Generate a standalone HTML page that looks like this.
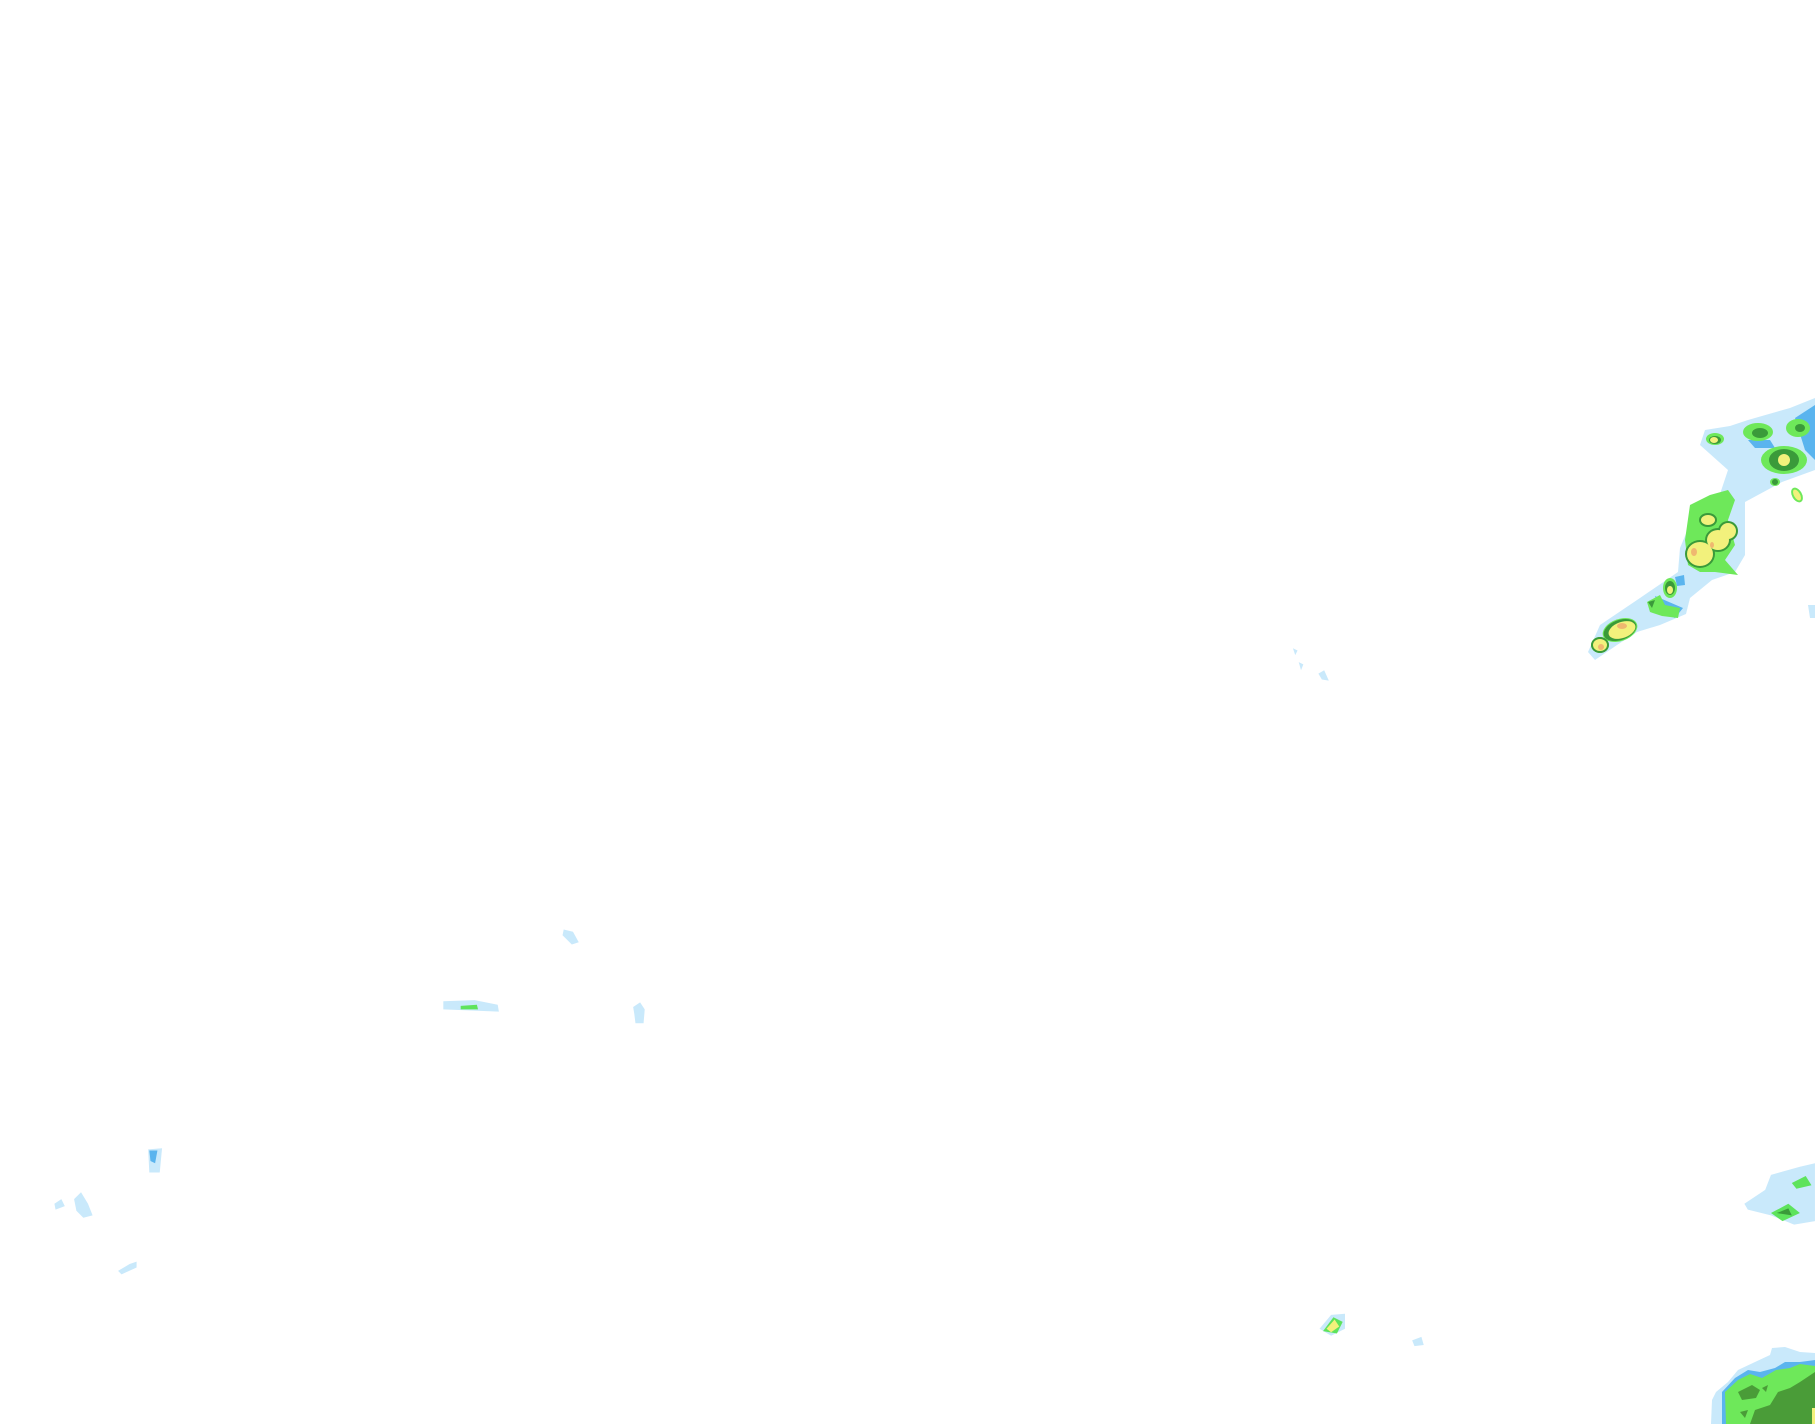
<!DOCTYPE html>
<html><head><meta charset="utf-8"><style>html,body{margin:0;padding:0;background:#fff}svg{display:block}</style></head>
<body>
<svg width="1815" height="1424" viewBox="0 0 1815 1424" xmlns="http://www.w3.org/2000/svg">
<rect width="1815" height="1424" fill="#fff"/>
<!-- scattered small features in 1568-scale coords -->
<g transform="scale(1.1575)">
<g fill="#c9e9fb">
<path d="M1140,1148 L1150,1136 L1162,1135 L1162,1148 L1150,1154 Z"/>
<path d="M1220,1158 L1228,1155 L1230,1162 L1222,1163 Z"/>
<path d="M383,865 L410,864 L430,868 L431,874 L383,872 Z"/>
<path d="M487,803 L495,805 L500,814 L494,816 L486,808 Z"/>
<path d="M547,870 L553,866 L557,872 L556,884 L549,884 L548,876 Z"/>
<path d="M128,993 L140,992 L138,1013 L129,1013 Z"/>
<path d="M47,1040 L53,1036 L56,1042 L48,1045 Z"/>
<path d="M64,1036 L70,1030 L76,1040 L80,1050 L72,1052 L66,1046 Z"/>
<path d="M102,1098 L112,1092 L118,1090 L118,1095 L105,1101 Z"/>
<path d="M1117,560 L1121,562 L1119,566 Z"/>
<path d="M1122,572 L1126,574 L1124,579 Z"/>
<path d="M1139,582 L1144,579 L1148,588 L1142,587 Z"/>
<path d="M1507,1040 L1525,1028 L1530,1015 L1555,1008 L1568,1005 L1568,1055 L1550,1058 L1530,1050 L1510,1045 Z"/>
</g>
<path fill="#5ab4ee" d="M129,994 L136,994 L134,1005 L130,1003 Z"/>
<g fill="#5ee35c">
<path d="M1548,1022 L1560,1016 L1565,1024 L1552,1027 Z"/>
<path d="M1530,1048 L1545,1040 L1555,1048 L1540,1055 Z"/>
<path d="M1143,1150 L1152,1138 L1160,1142 L1155,1152 Z"/>
<path d="M398,869 L412,868 L413,872 L398,872 Z"/>
</g>
<path fill="#3a9a3a" d="M1535,1048 L1545,1044 L1548,1050 Z"/>
<path fill="#f2f17c" d="M1146,1148 L1153,1140 L1157,1146 L1150,1151 Z"/>
</g>

<!-- top-right band, actual coords -->
<path fill="#c9e9fb" d="M1588,652 L1600,625 L1640,598 L1678,572 L1680,548 L1698,505 L1720,494 L1728,470 L1700,445 L1705,430 L1730,426 L1748,420 L1790,408 L1815,398 L1815,470 L1782,482 L1745,502 L1745,555 L1735,572 L1712,580 L1690,598 L1686,614 L1660,625 L1637,632 L1617,645 L1595,660 Z"/>
<path fill="#c9e9fb" d="M1808,605 L1815,605 L1815,618 L1810,618 Z"/>
<g fill="#5ab4ee">
<path d="M1795,418 L1815,405 L1815,460 L1805,450 Z"/>
<path d="M1748,440 L1770,440 L1775,448 L1755,448 Z"/>
<path d="M1675,577 L1684,575 L1685,585 L1677,586 Z"/>
<path d="M1655,596 L1683,608 L1675,618 L1660,612 Z"/>
</g>
<g fill="#6ee85a">
<ellipse cx="1758" cy="432" rx="15" ry="9"/>
<ellipse cx="1798" cy="428" rx="12" ry="9"/>
<ellipse cx="1784" cy="460" rx="23" ry="14"/>
<ellipse cx="1715" cy="439" rx="9" ry="6"/>
<ellipse cx="1775" cy="482" rx="5" ry="4"/>
<ellipse cx="1797" cy="495" rx="5" ry="8" transform="rotate(-30 1797 495)"/>
<ellipse cx="1670" cy="588" rx="7" ry="10"/>
<path d="M1647,602 L1660,595 L1665,605 L1680,608 L1678,618 L1662,616 L1650,612 Z"/>
<path d="M1690,505 L1710,495 L1728,490 L1735,500 L1728,520 L1735,545 L1725,560 L1738,575 L1715,572 L1700,572 L1688,565 L1685,540 Z"/>
<ellipse cx="1620" cy="630" rx="18" ry="11" transform="rotate(-20 1620 630)"/>
<ellipse cx="1600" cy="645" rx="9" ry="8"/>
</g>
<g fill="#3a9a3a">
<ellipse cx="1760" cy="433" rx="8" ry="5"/>
<ellipse cx="1800" cy="428" rx="5" ry="4"/>
<ellipse cx="1784" cy="460" rx="15" ry="11"/>
<ellipse cx="1715" cy="440" rx="6" ry="4"/>
<ellipse cx="1775" cy="482" rx="3" ry="3"/>
<ellipse cx="1670" cy="588" rx="5" ry="7"/>
<ellipse cx="1700" cy="554" rx="15" ry="14"/>
<ellipse cx="1718" cy="540" rx="13" ry="12"/>
<ellipse cx="1728" cy="531" rx="10" ry="10"/>
<ellipse cx="1708" cy="520" rx="9" ry="7"/>
<ellipse cx="1620" cy="630" rx="17" ry="10" transform="rotate(-20 1620 630)"/>
<ellipse cx="1600" cy="645" rx="9" ry="8"/>
<path d="M1648,602 L1655,600 L1652,608 Z"/>
</g>
<g fill="#f2f17c">
<circle cx="1784" cy="460" r="6"/>
<ellipse cx="1714" cy="440" rx="4" ry="3"/>
<ellipse cx="1797" cy="495" rx="3" ry="6" transform="rotate(-30 1797 495)"/>
<ellipse cx="1670" cy="590" rx="3" ry="4"/>
<ellipse cx="1700" cy="554" rx="13" ry="12"/>
<ellipse cx="1718" cy="540" rx="11" ry="10"/>
<ellipse cx="1728" cy="531" rx="8" ry="8"/>
<ellipse cx="1708" cy="520" rx="7" ry="5"/>
<ellipse cx="1622" cy="630" rx="14" ry="8" transform="rotate(-20 1622 630)"/>
<ellipse cx="1600" cy="645" rx="7" ry="6"/>
</g>
<g fill="#efb870">
<ellipse cx="1694" cy="552" rx="3" ry="4"/>
<ellipse cx="1622" cy="626" rx="5" ry="3"/>
<ellipse cx="1601" cy="647" rx="3" ry="3"/>
<ellipse cx="1712" cy="545" rx="2" ry="3"/>
</g>

<!-- bottom-right -->
<path fill="#c9e9fb" d="M1711,1424 L1712,1400 L1716,1392 L1728,1382 L1738,1370 L1755,1362 L1770,1355 L1772,1348 L1785,1347 L1800,1352 L1815,1353 L1815,1424 Z"/>
<path fill="#5ab4ee" d="M1722,1424 L1722,1392 L1735,1378 L1748,1370 L1760,1372 L1775,1368 L1785,1362 L1800,1362 L1815,1360 L1815,1424 Z"/>
<path fill="#6ee85a" d="M1726,1424 L1725,1392 L1738,1380 L1750,1374 L1762,1378 L1776,1370 L1790,1368 L1800,1364 L1815,1366 L1815,1424 Z"/>
<g fill="#4a9c38">
<path d="M1738,1392 L1752,1385 L1760,1390 L1756,1398 L1742,1400 Z"/>
<path d="M1762,1388 L1768,1385 L1766,1392 Z"/>
<path d="M1740,1412 L1748,1410 L1745,1418 Z"/>
<path d="M1750,1424 L1755,1410 L1770,1405 L1778,1392 L1790,1388 L1800,1382 L1815,1372 L1815,1424 Z"/>
</g>
<path fill="#f2f17c" d="M1812,1408 L1815,1408 L1815,1424 L1812,1424 Z"/>
</svg>
</body></html>
